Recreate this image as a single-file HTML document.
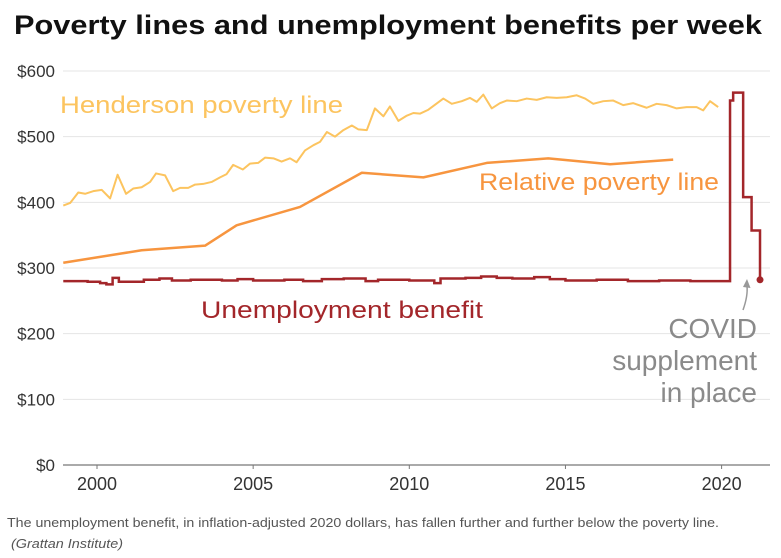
<!DOCTYPE html>
<html><head><meta charset="utf-8"><style>
body{margin:0;background:#fff;}
svg{display:block;font-family:"Liberation Sans",sans-serif;}
</style></head><body>
<svg id="chart" width="781" height="558" viewBox="0 0 781 558">
<text x="14" y="34" font-size="27" font-weight="bold" fill="#111" textLength="748" lengthAdjust="spacingAndGlyphs">Poverty lines and unemployment benefits per week</text>
<g id="grid"></g><g id="series"></g>
<text x="60" y="113" font-size="24" fill="#fcc45f" textLength="283" lengthAdjust="spacingAndGlyphs">Henderson poverty line</text>
<text x="479" y="190" font-size="24" fill="#f7953f" textLength="240" lengthAdjust="spacingAndGlyphs">Relative poverty line</text>
<text x="201" y="318" font-size="24" fill="#a3262a" textLength="282" lengthAdjust="spacingAndGlyphs">Unemployment benefit</text>
<g font-size="28" fill="#8a8a8a" text-anchor="end">
<text x="757" y="338">COVID</text><text x="757" y="370">supplement</text><text x="757" y="402">in place</text></g>
<path d="M743 310 Q748 296 747 286" fill="none" stroke="#999" stroke-width="1.5"/>
<path d="M743 287 L747 279 L750.5 288 Z" fill="#999"/>
<text x="7" y="527" font-size="12.5" fill="#555" textLength="712" lengthAdjust="spacingAndGlyphs">The unemployment benefit, in inflation-adjusted 2020 dollars, has fallen further and further below the poverty line.</text>
<text x="11" y="548" font-size="12.5" font-style="italic" fill="#555" textLength="112" lengthAdjust="spacingAndGlyphs">(Grattan Institute)</text>
</svg>
<script>
const yTicks=[0,100,200,300,400,500,600];
const xTicks=[2000,2005,2010,2015,2020];
const hendYears=[1998.92,1999.14,1999.4,1999.62,1999.88,2000.15,2000.42,2000.66,2000.93,2001.16,2001.43,2001.7,2001.89,2002.18,2002.44,2002.66,2002.92,2003.14,2003.4,2003.67,2003.94,2004.15,2004.36,2004.67,2004.9,2005.16,2005.38,2005.65,2005.91,2006.18,2006.39,2006.66,2006.93,2007.14,2007.36,2007.62,2007.89,2008.16,2008.37,2008.64,2008.9,2009.17,2009.38,2009.65,2009.92,2010.13,2010.34,2010.61,2011.09,2011.36,2011.68,2011.94,2012.16,2012.37,2012.64,2012.9,2013.12,2013.44,2013.76,2014.08,2014.4,2014.72,2015.04,2015.36,2015.63,2015.89,2016.21,2016.53,2016.85,2017.17,2017.6,2017.92,2018.24,2018.56,2018.88,2019.2,2019.41,2019.63,2019.89];
const hendValues=[395,399,415,413,417,419,406,442,413,421,423,431,444,441,417,422,422,427,428,431,438,443,457,450,459,460,468,467,462,467,461,479,487,492,507,500,510,517,511,510,543,531,546,524,532,536,535,541,558,550,554,559,553,564,543,551,555,554,558,556,560,559,560,563,558,550,554,555,548,551,544,550,548,543,545,545,540,554,545];
const relYears=[1998.92,2001.43,2003.46,2004.47,2006.5,2008.48,2010.45,2012.48,2014.45,2016.43,2018.45];
const relValues=[308,327,334,365,393,445,438,460,467,458,465];
const uneYears=[1998.92,1999.7,2000.1,2000.3,2000.5,2000.7,2001.5,2002.0,2002.4,2003.0,2004.0,2004.5,2005.0,2006.0,2006.6,2007.2,2007.9,2008.6,2009.0,2010.0,2010.8,2011.0,2011.8,2012.3,2012.8,2013.3,2014.0,2014.5,2015.0,2016.0,2017.0,2018.0,2019.0,2020.0,2020.27,2020.37,2020.69,2020.96,2021.23];
const uneValues=[280,279,277,275,285,279,282,284,281,282,281,283,281,282,280,283,284,280,282,281,277,284,285,287,285,284,286,283,281,282,280,281,280,280,555,567,408,357,282];
const NS='http://www.w3.org/2000/svg';
const X=y=>97+(y-2000)*31.23;
const Y=v=>465-v*0.6567;
function mk(t,a,p){const e=document.createElementNS(NS,t);for(const k in a)e.setAttribute(k,a[k]);p.appendChild(e);return e;}
const grid=document.getElementById('grid'),ser=document.getElementById('series');
yTicks.forEach(v=>{
 if(v>0){const l=mk('line',{x1:63,x2:770,y1:Y(v),y2:Y(v),stroke:'#e4e4e4','stroke-width':1},grid);
 
 }
 const t=mk('text',{x:55,y:Y(v)+6,'font-size':17,fill:'#333','text-anchor':'end'},grid);
 t.textContent='$'+v;
 
 
});
const ax=mk('line',{x1:63,x2:770,y1:465,y2:465,stroke:'#777','stroke-width':1.2},grid);


xTicks.forEach(y=>{
 const tk=mk('line',{x1:X(y),x2:X(y),y1:465,y2:469,stroke:'#777'},grid);
 
 
 const t=mk('text',{x:X(y),y:490,'font-size':18,fill:'#333','text-anchor':'middle'},grid);
 t.textContent=y;
 
 
});
const hp=mk('polyline',{points:hendYears.map((y,i)=>X(y)+','+Y(hendValues[i])).join(' '),fill:'none',stroke:'#fcc45f','stroke-width':2,'stroke-linejoin':'round'},ser);


const rp=mk('polyline',{points:relYears.map((y,i)=>X(y)+','+Y(relValues[i])).join(' '),fill:'none',stroke:'#f7953f','stroke-width':2.5,'stroke-linejoin':'round'},ser);


let pts=[];
uneYears.forEach((y,i)=>{if(i>0)pts.push(X(y)+','+Y(uneValues[i-1]));pts.push(X(y)+','+Y(uneValues[i]));});
const up=mk('polyline',{points:pts.join(' '),fill:'none',stroke:'#a3262a','stroke-width':2.5},ser);


const n=uneYears.length-1;
const dot=mk('circle',{cx:X(uneYears[n]),cy:Y(uneValues[n]),r:3.5,fill:'#a3262a'},ser);


</script>
</body></html>
